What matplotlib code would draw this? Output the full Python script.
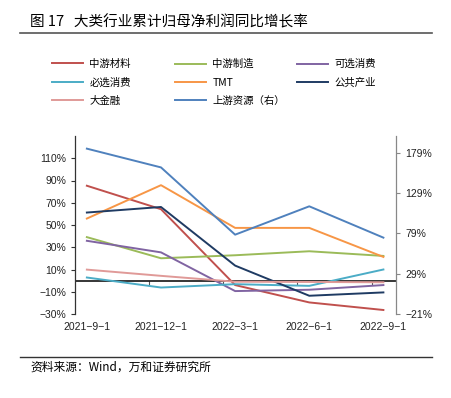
import matplotlib
matplotlib.use("Agg")
import matplotlib.pyplot as plt
from matplotlib.ticker import FuncFormatter, NullFormatter

plt.rcParams['font.family'] = ['Liberation Sans', 'Noto Sans CJK SC', 'DejaVu Sans']
plt.rcParams['axes.unicode_minus'] = True

# data
dates = ["2021−9−1", "2021−12−1", "2022−3−1", "2022−6−1", "2022−9−1"]

mid_material = [85.3, 64.2, -4.0, -19.6, -26.4]
mid_manufact = [39.1, 20.1, 22.8, 26.4, 22.2]
opt_consume = [35.8, 25.4, -9.4, -8.2, -4.0]
ess_consume = [2.8, -6.2, -3.2, -4.7, 10.0]
tmt = [55.8, 85.8, 47.4, 47.4, 21.3]
utilities = [61.2, 66.2, 13.5, -13.6, -10.6]
finance = [9.9, 4.3, -1.0, -1.2, -1.5]
upstream = [184.3, 161.0, 77.5, 112.7, 73.8]  # right axis

left_series = [
    ("中游材料", mid_material, "#C0504D"),
    ("中游制造", mid_manufact, "#9BBB59"),
    ("可选消费", opt_consume, "#8064A2"),
    ("必选消费", ess_consume, "#4BACC6"),
    ("TMT", tmt, "#F79646"),
    ("公共产业", utilities, "#1F3B63"),
    ("大金融", finance, "#E09A98"),
]
upstream_color = "#4F81BD"

fig = plt.figure(figsize=(4.52, 3.98), dpi=100)
ax = fig.add_axes([75 / 452, 84 / 398, 321 / 452, 178 / 398])
ax2 = ax.twinx()

x = list(range(len(dates)))
handles = {}
for name, vals, col in left_series:
    h, = ax.plot(x, vals, color=col, lw=1.4)
    handles[name] = h
h, = ax2.plot(x, upstream, color=upstream_color, lw=1.4)
handles["上游资源（右）"] = h

ax.axhline(0, color="black", lw=1.1, zorder=1)

ax.set_xlim(-0.16, 4.17)
ax.set_ylim(-30, 130)
ax.set_yticks(range(-30, 111, 20))
ax2.set_ylim(-21, 200)
ax2.set_yticks([-21, 29, 79, 129, 179])
pct = FuncFormatter(lambda v, p: f"{v:.0f}%".replace("-", "−"))
ax.yaxis.set_major_formatter(pct)
ax2.yaxis.set_major_formatter(pct)

ax.set_xticks(x)
ax.set_xticklabels(dates)
ax.tick_params(axis="x", length=0, pad=6, labelsize=7.5, colors="#222222")
ax.tick_params(axis="y", length=3, width=0.8, labelsize=7.5, colors="#222222")
ax2.tick_params(axis="y", length=3, width=0.8, labelsize=7.5, colors="#222222")
ax.tick_params(axis="y", color="#333333")
ax2.tick_params(axis="y", color="#888888")

# small month-boundary ticks sitting on the zero line
zero_pos = (0 - ax.get_ylim()[0]) / (ax.get_ylim()[1] - ax.get_ylim()[0])
sec = ax.secondary_xaxis(zero_pos)
sec.set_xticks([k - 0.16 for k in x[1:]])
sec.xaxis.set_major_formatter(NullFormatter())
sec.xaxis.set_ticks_position("bottom")
sec.tick_params(axis="x", length=3, width=0.8, color="#555555", direction="out",
                labelbottom=False, labeltop=False)
sec.spines["bottom"].set_visible(False)
sec.spines["top"].set_visible(False)

for a in (ax, ax2):
    a.spines["top"].set_visible(False)
    a.spines["bottom"].set_visible(False)
ax.spines["right"].set_visible(False)
ax2.spines["left"].set_visible(False)
ax.spines["left"].set_color("#333333")
ax.spines["left"].set_linewidth(0.9)
ax2.spines["right"].set_color("#888888")
ax2.spines["right"].set_linewidth(0.9)

# legend: three columns at fixed positions like the reference
columns = [["中游材料", "必选消费", "大金融"],
           ["中游制造", "TMT", "上游资源（右）"],
           ["可选消费", "公共产业"]]
col_x = [52, 175, 297]
for names, cx in zip(columns, col_x):
    lg = fig.legend([handles[k] for k in names], names, ncol=1,
                    loc="upper left", bbox_to_anchor=(cx / 452, 1 - 59 / 398),
                    frameon=False, handlelength=3.0, labelspacing=0.8,
                    handletextpad=0.6, borderaxespad=0, borderpad=0,
                    prop={"family": ["Noto Sans CJK SC"], "size": 7.5})

fig.text(30 / 452, 1 - 22 / 398, "图 17   大类行业累计归母净利润同比增长率",
         fontsize=10.5, va="center", ha="left", family=["Noto Sans CJK SC"])
fig.add_artist(plt.Line2D([20 / 452, 432 / 452], [1 - 33 / 398, 1 - 33 / 398],
                          color="#555555", lw=1.2))
fig.add_artist(plt.Line2D([20 / 452, 432 / 452], [1 - 357 / 398, 1 - 357 / 398],
                          color="#333333", lw=1.0))
fig.text(30 / 452, 1 - 367 / 398, "资料来源：Wind，万和证券研究所",
         fontsize=8.5, va="center", ha="left", family=["Noto Sans CJK SC"])

fig.savefig("out.png", dpi=100)
